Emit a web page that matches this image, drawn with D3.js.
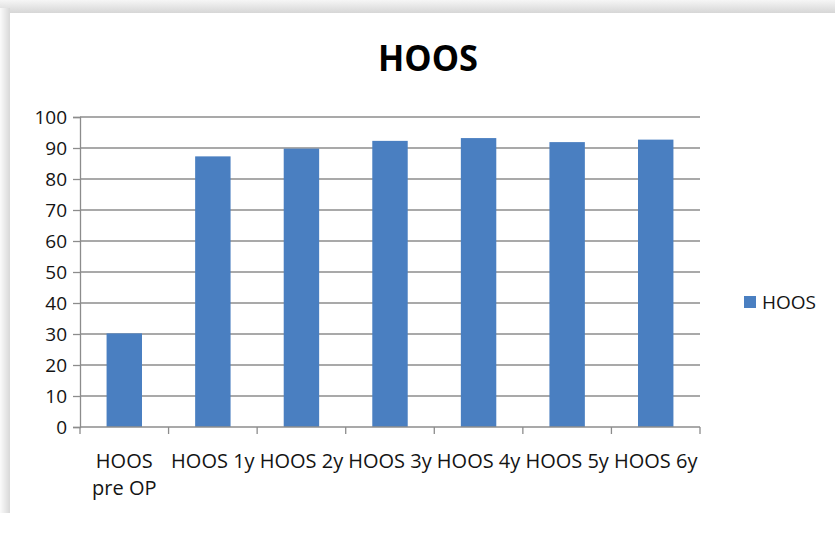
<!DOCTYPE html>
<html>
<head>
<meta charset="utf-8">
<script src="https://cdn.jsdelivr.net/npm/d3@7"></script>
<style>
  html, body { margin: 0; padding: 0; background: #fff; }
  svg { display: block; }
  text { font-family: "Open Sans", "Noto Sans", sans-serif; fill: #141414; }
</style>
</head>
<body>
<svg id="chart" width="835" height="547"></svg>
<script>
// HOOS score over follow-up
const categories = [["HOOS", "pre OP"], ["HOOS 1y"], ["HOOS 2y"], ["HOOS 3y"], ["HOOS 4y"], ["HOOS 5y"], ["HOOS 6y"]];
const hoosValues = [30.2, 87.3, 89.8, 92.3, 93.2, 91.9, 92.7];
const yTicks = [0, 10, 20, 30, 40, 50, 60, 70, 80, 90, 100];
const seriesName = "HOOS";
const chartTitle = "HOOS";

const svg = d3.select("#chart");
const W = 835, H = 547;

// soft frame shadow along the top and left edges
const defs = svg.append("defs");
const gTop = defs.append("linearGradient").attr("id", "shTop").attr("x1", 0).attr("y1", 0).attr("x2", 0).attr("y2", 1);
gTop.append("stop").attr("offset", "0%").attr("stop-color", "#f6f6f6");
gTop.append("stop").attr("offset", "100%").attr("stop-color", "#d6d6d6");
const gLeft = defs.append("linearGradient").attr("id", "shLeft").attr("x1", 0).attr("y1", 0).attr("x2", 1).attr("y2", 0);
gLeft.append("stop").attr("offset", "0%").attr("stop-color", "#fbfbfb");
gLeft.append("stop").attr("offset", "100%").attr("stop-color", "#d8d8d8");

svg.append("rect").attr("width", W).attr("height", H).attr("fill", "#fff");
svg.append("rect").attr("x", 0).attr("y", 0).attr("width", W).attr("height", 13).attr("fill", "url(#shTop)");
svg.append("rect").attr("x", 0).attr("y", 8).attr("width", 10).attr("height", 505).attr("fill", "url(#shLeft)");

const plot = { left: 80, right: 700, top: 117, bottom: 427 };

const x = d3.scaleBand()
  .domain(d3.range(categories.length))
  .range([plot.left, plot.right])
  .paddingInner(0.6)
  .paddingOuter(0.3);

const y = d3.scaleLinear().domain([0, 100]).range([plot.bottom, plot.top]);

// title
svg.append("text")
  .attr("x", 428).attr("y", 71)
  .attr("text-anchor", "middle")
  .attr("font-size", 35).attr("font-weight", 700)
  .attr("textLength", 100).attr("lengthAdjust", "spacingAndGlyphs")
  .style("fill", "#000")
  .text(chartTitle);

// horizontal gridlines
svg.append("g")
  .selectAll("line")
  .data(yTicks.filter(d => d > 0))
  .join("line")
  .attr("x1", plot.left).attr("x2", plot.right)
  .attr("y1", d => y(d)).attr("y2", d => y(d))
  .attr("stroke", "#8c8c8c").attr("stroke-width", 1.3);

// bars
svg.append("g")
  .selectAll("rect")
  .data(hoosValues)
  .join("rect")
  .attr("x", (d, i) => x(i))
  .attr("width", x.bandwidth())
  .attr("y", d => y(d))
  .attr("height", d => y(0) - y(d))
  .attr("fill", "#4a7fc1");

// y axis
const yAxis = svg.append("g")
  .attr("transform", `translate(${plot.left},0)`)
  .call(d3.axisLeft(y).tickValues(yTicks).tickSize(7).tickPadding(6));
yAxis.select(".domain").attr("stroke", "#8c8c8c").attr("stroke-width", 1.3);
yAxis.selectAll(".tick line").attr("stroke", "#8c8c8c").attr("stroke-width", 1.3);
yAxis.selectAll(".tick text")
  .attr("font-size", 19)
  .style("font-family", "'Open Sans', sans-serif")
  .style("fill", "#141414");

// x axis with boundary tick marks between categories
const xEdges = d3.scaleLinear().domain([0, categories.length]).range([plot.left, plot.right]);
const xAxisG = svg.append("g");
xAxisG.append("line")
  .attr("x1", plot.left).attr("x2", plot.right)
  .attr("y1", plot.bottom).attr("y2", plot.bottom)
  .attr("stroke", "#8c8c8c").attr("stroke-width", 1.3);
xAxisG.selectAll("line.edge")
  .data(d3.range(categories.length + 1))
  .join("line")
  .attr("class", "edge")
  .attr("x1", d => xEdges(d)).attr("x2", d => xEdges(d))
  .attr("y1", plot.bottom).attr("y2", plot.bottom + 7)
  .attr("stroke", "#8c8c8c").attr("stroke-width", 1.3);

const labels = xAxisG.selectAll("text.cat")
  .data(categories)
  .join("text")
  .attr("class", "cat")
  .attr("text-anchor", "middle")
  .attr("font-size", 20)
  .attr("x", (d, i) => x(i) + x.bandwidth() / 2)
  .attr("y", 468);
labels.selectAll("tspan")
  .data(d => d)
  .join("tspan")
  .attr("x", function () { return d3.select(this.parentNode).attr("x"); })
  .attr("dy", (d, i) => i === 0 ? 0 : 27)
  .text(d => d);

// legend
const legend = svg.append("g").attr("transform", "translate(744,296)");
legend.append("rect").attr("width", 12).attr("height", 12).attr("fill", "#4a7fc1");
legend.append("text").attr("x", 18).attr("y", 13).attr("font-size", 19).text(seriesName);
</script>
</body>
</html>
